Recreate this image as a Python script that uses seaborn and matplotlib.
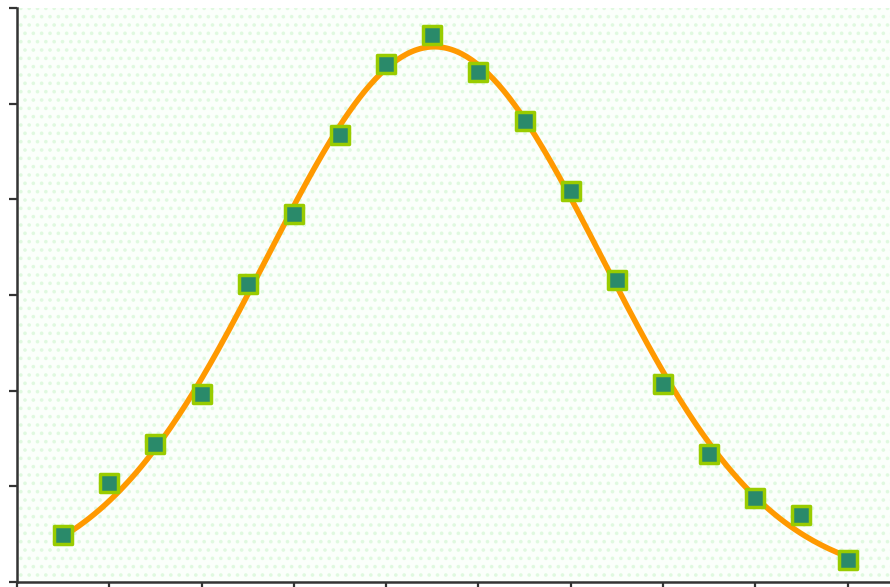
import matplotlib
matplotlib.use("Agg")
import matplotlib.pyplot as plt
from matplotlib.patches import Rectangle
import numpy as np
import pandas as pd
import seaborn as sns

x_vals = [0.5, 1.0, 1.5, 2.0, 2.5, 3.0, 3.5, 4.0, 4.5,
          5.0, 5.5, 6.0, 6.5, 7.0, 7.5, 8.0, 8.5, 9.0]
y_vals = [0.49, 1.03, 1.44, 1.97, 3.11, 3.85, 4.67, 5.41, 5.72,
          5.33, 4.82, 4.09, 3.16, 2.07, 1.34, 0.88, 0.70, 0.23]
x_ticks = [0, 1, 2, 3, 4, 5, 6, 7, 8, 9]
y_ticks = [0, 1, 2, 3, 4, 5, 6]

points = pd.DataFrame({"x": x_vals, "y": y_vals})


def gauss(x, p):
    a, mu, s = p
    return a * np.exp(-((x - mu) ** 2) / (2 * s ** 2))


def fit_gauss(x, y, n_iter=50):
    # start from a log-quadratic fit, then refine with Gauss-Newton
    c = np.polyfit(x, np.log(y), 2, w=y)
    s = np.sqrt(-1 / (2 * c[0]))
    mu = c[1] * s ** 2
    a = np.exp(c[2] + mu ** 2 / (2 * s ** 2))
    p = np.array([a, mu, s])
    for _ in range(n_iter):
        g = gauss(x, p)
        d = x - p[1]
        J = np.column_stack([g / p[0], g * d / p[2] ** 2, g * d ** 2 / p[2] ** 3])
        step, *_ = np.linalg.lstsq(J, y - g, rcond=None)
        p = p + step
    return p


params = fit_gauss(points["x"].to_numpy(), points["y"].to_numpy())
x_fit = np.linspace(points["x"].min(), points["x"].max(), 300)
fit = pd.DataFrame({"x": x_fit, "y": gauss(x_fit, params)})

sns.set_style("ticks")
plt.rcParams["hatch.linewidth"] = 1.4
plt.rcParams["hatch.color"] = "#e0f9e0"

fig = plt.figure(figsize=(8.9, 5.87), dpi=100)
ax = fig.add_axes([17 / 890, 5 / 587, 873 / 890, 574 / 587])
ax.set_facecolor("#fbfffb")
ax.add_patch(Rectangle((0, 0), 1, 1, transform=ax.transAxes, facecolor="none",
                       edgecolor="#e0f9e0", hatch="..", linewidth=0, zorder=0))

sns.lineplot(data=fit, x="x", y="y", ax=ax, color="#ff9900", linewidth=4.0, zorder=2)
sns.scatterplot(data=points, x="x", y="y", ax=ax, marker="s", s=180,
                color="#2a8a6a", edgecolor="#99cc00", linewidth=2.5, zorder=3)

ax.set_xlim(0, 9.46)
ax.set_ylim(0, 6)
ax.set_xticks(x_ticks)
ax.set_yticks(y_ticks)
ax.set_xticklabels([])
ax.set_yticklabels([])
ax.set_xlabel("")
ax.set_ylabel("")
for side in ["top", "right"]:
    ax.spines[side].set_visible(False)
for side in ["left", "bottom"]:
    ax.spines[side].set_color("#333333")
    ax.spines[side].set_linewidth(1.8)
ax.tick_params(direction="out", length=6, width=1.6, color="#333333")

fig.savefig("out.png", dpi=100)
